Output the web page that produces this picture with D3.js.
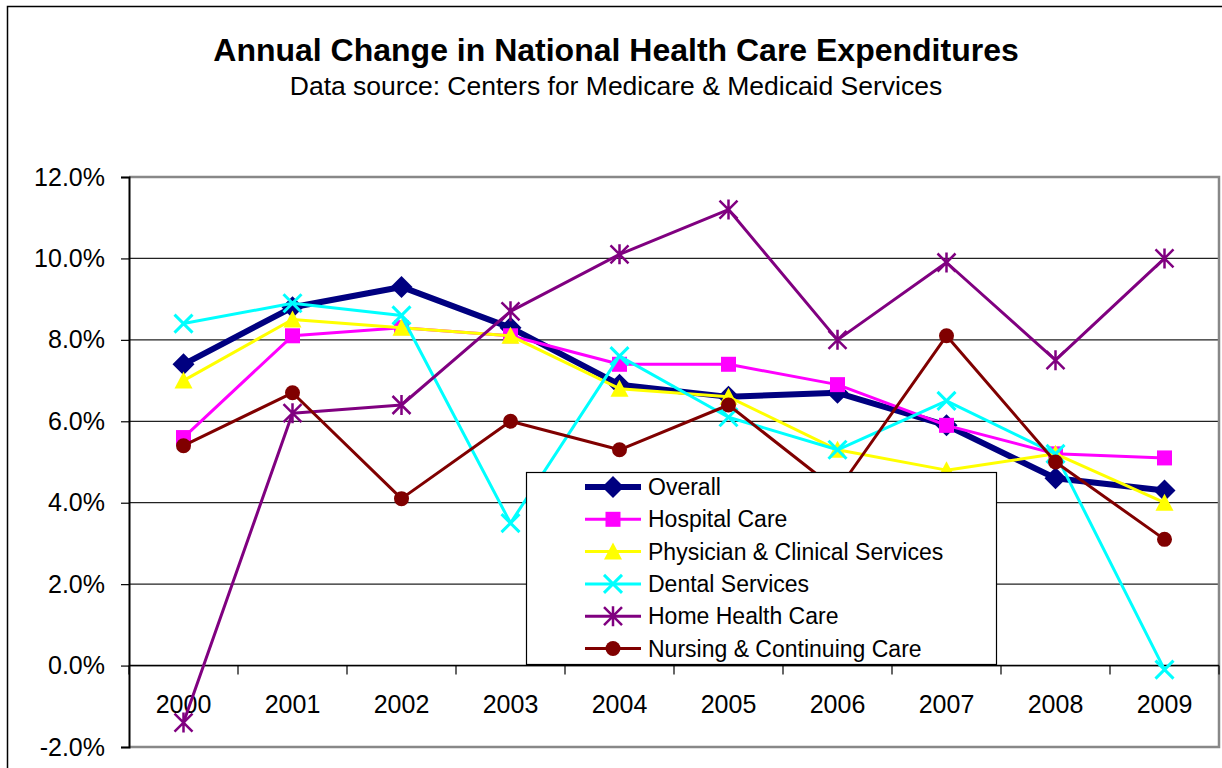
<!DOCTYPE html>
<html lang="en">
<head>
  <meta charset="utf-8">
  <title>Annual Change in National Health Care Expenditures</title>
  <script src="https://d3js.org/d3.v7.min.js"></script>
  <style>
    body { margin: 0; background: #fff; }
    text { font-family: "Liberation Sans", Arial, sans-serif; fill: #000; }
  </style>
</head>
<body>
<script>
  // data (annual % change)
  var years = ["2000","2001","2002","2003","2004","2005","2006","2007","2008","2009"];
  var seriesNames = ["Overall","Hospital Care","Physician & Clinical Services","Dental Services","Home Health Care","Nursing & Continuing Care"];
  var overall   = [7.4, 8.8, 9.3, 8.3, 6.9, 6.6, 6.7, 5.9, 4.6, 4.3];
  var hospital  = [5.6, 8.1, 8.3, 8.1, 7.4, 7.4, 6.9, 5.9, 5.2, 5.1];
  var physician = [7.0, 8.5, 8.3, 8.1, 6.8, 6.6, 5.3, 4.8, 5.2, 4.0];
  var dental    = [8.4, 8.9, 8.6, 3.5, 7.6, 6.1, 5.3, 6.5, 5.2, -0.1];
  var homeHealth= [-1.4, 6.2, 6.4, 8.7, 10.1, 11.2, 8.0, 9.9, 7.5, 10.0];
  var nursing   = [5.4, 6.7, 4.1, 6.0, 5.3, 6.4, 4.3, 8.1, 5.0, 3.1];
  var yTicks = [-2, 0, 2, 4, 6, 8, 10, 12];

  var width = 1222, height = 768;
  var plotLeft = 129, plotRight = 1219, plotTop = 177, plotBottom = 747;

  var svg = d3.select("body").append("svg")
      .attr("width", width)
      .attr("height", height);

  // chart area border
  svg.append("rect")
      .attr("x", 7.5).attr("y", 6.5)
      .attr("width", 1300).attr("height", 900)
      .attr("fill", "#fff")
      .attr("stroke", "#000").attr("stroke-width", 1.5);

  svg.append("text")
      .attr("x", 616).attr("y", 61)
      .attr("text-anchor", "middle")
      .attr("font-size", 32).attr("font-weight", "bold")
      .text("Annual Change in National Health Care Expenditures");
  svg.append("text")
      .attr("x", 616).attr("y", 95)
      .attr("text-anchor", "middle")
      .attr("font-size", 26.5)
      .text("Data source: Centers for Medicare & Medicaid Services");

  var x = d3.scaleBand().domain(years).range([plotLeft, plotRight]);
  var y = d3.scaleLinear().domain([-2, 12]).range([plotBottom, plotTop]);
  var cx = function(i) { return x(years[i]) + x.bandwidth() / 2; };

  // gridlines
  svg.append("g").selectAll("line")
      .data(yTicks.filter(function(d) { return d > -2 && d < 12; }))
      .join("line")
      .attr("x1", plotLeft).attr("x2", plotRight)
      .attr("y1", function(d) { return y(d); })
      .attr("y2", function(d) { return y(d); })
      .attr("stroke", "#222").attr("stroke-width", 1.2);

  // plot area border (gray) top/right/bottom
  svg.append("path")
      .attr("d", "M" + plotLeft + "," + plotTop + "H" + plotRight + "V" + plotBottom + "H" + plotLeft)
      .attr("fill", "none")
      .attr("stroke", "#888").attr("stroke-width", 2.5);

  // y axis
  var yAxis = svg.append("g")
      .attr("transform", "translate(" + plotLeft + ",0)")
      .call(d3.axisLeft(y)
        .tickValues(yTicks)
        .tickSize(8)
        .tickPadding(16)
        .tickFormat(function(d) { return d.toFixed(1) + "%"; }));
  yAxis.select(".domain").attr("stroke", "#000").attr("stroke-width", 2);
  yAxis.selectAll(".tick line").attr("stroke", "#000").attr("stroke-width", 1.2);
  yAxis.selectAll("text")
      .attr("font-size", 25)
      .attr("font-family", "'Liberation Sans', Arial, sans-serif")
      .attr("fill", "#000");

  // x axis at 0%
  var xg = svg.append("g");
  xg.append("line")
      .attr("x1", plotLeft).attr("x2", plotRight)
      .attr("y1", y(0)).attr("y2", y(0))
      .attr("stroke", "#000").attr("stroke-width", 1.5);
  xg.selectAll("line.tk")
      .data(years.concat(["end"]))
      .join("line")
      .attr("class", "tk")
      .attr("x1", function(d, i) { return plotLeft + i * x.bandwidth(); })
      .attr("x2", function(d, i) { return plotLeft + i * x.bandwidth(); })
      .attr("y1", y(0)).attr("y2", y(0) + 9)
      .attr("stroke", "#000").attr("stroke-width", 1.2);
  xg.selectAll("text")
      .data(years)
      .join("text")
      .attr("x", function(d) { return x(d) + x.bandwidth() / 2; })
      .attr("y", 713)
      .attr("text-anchor", "middle")
      .attr("font-size", 25)
      .text(function(d) { return d; });

  // markers
  function drawMarker(g, type, color, px, py) {
    if (type === "diamond") {
      g.append("path")
        .attr("d", "M" + px + "," + (py - 11) + "L" + (px + 11) + "," + py + "L" + px + "," + (py + 11) + "L" + (px - 11) + "," + py + "Z")
        .attr("fill", color);
    } else if (type === "square") {
      g.append("rect").attr("x", px - 7.5).attr("y", py - 7.5)
        .attr("width", 15).attr("height", 15).attr("fill", color);
    } else if (type === "triangle") {
      g.append("path")
        .attr("d", "M" + px + "," + (py - 9) + "L" + (px + 9) + "," + (py + 8) + "L" + (px - 9) + "," + (py + 8) + "Z")
        .attr("fill", color);
    } else if (type === "x") {
      g.append("path")
        .attr("d", "M" + (px - 9) + "," + (py - 9) + "L" + (px + 9) + "," + (py + 9) + "M" + (px + 9) + "," + (py - 9) + "L" + (px - 9) + "," + (py + 9))
        .attr("stroke", color).attr("stroke-width", 3).attr("fill", "none");
    } else if (type === "star") {
      g.append("path")
        .attr("d", "M" + (px - 9) + "," + (py - 9) + "L" + (px + 9) + "," + (py + 9) + "M" + (px + 9) + "," + (py - 9) + "L" + (px - 9) + "," + (py + 9) + "M" + px + "," + (py - 10) + "L" + px + "," + (py + 10))
        .attr("stroke", color).attr("stroke-width", 2.5).attr("fill", "none");
    } else if (type === "circle") {
      g.append("circle").attr("cx", px).attr("cy", py).attr("r", 7.5).attr("fill", color);
    }
  }

  var series = [
    { name: seriesNames[0], values: overall,    color: "#000080", width: 6, marker: "diamond" },
    { name: seriesNames[1], values: hospital,   color: "#FF00FF", width: 3, marker: "square" },
    { name: seriesNames[2], values: physician,  color: "#FFFF00", width: 3, marker: "triangle" },
    { name: seriesNames[3], values: dental,     color: "#00FFFF", width: 3, marker: "x" },
    { name: seriesNames[4], values: homeHealth, color: "#800080", width: 3, marker: "star" },
    { name: seriesNames[5], values: nursing,    color: "#800000", width: 3, marker: "circle" }
  ];

  var line = d3.line()
      .x(function(d, i) { return cx(i); })
      .y(function(d) { return y(d); });

  series.forEach(function(s) {
    var g = svg.append("g");
    g.append("path")
      .attr("d", line(s.values))
      .attr("fill", "none")
      .attr("stroke", s.color)
      .attr("stroke-width", s.width)
      .attr("stroke-linejoin", "round");
    s.values.forEach(function(v, i) { drawMarker(g, s.marker, s.color, cx(i), y(v)); });
  });

  // legend
  var lg = svg.append("g");
  lg.append("rect")
      .attr("x", 526.5).attr("y", 472.5)
      .attr("width", 470).attr("height", 192)
      .attr("fill", "#fff")
      .attr("stroke", "#000").attr("stroke-width", 1.2);
  series.forEach(function(s, i) {
    var ly = 487 + i * 32.3;
    lg.append("line")
      .attr("x1", 585).attr("x2", 641)
      .attr("y1", ly).attr("y2", ly)
      .attr("stroke", s.color).attr("stroke-width", s.width);
    drawMarker(lg, s.marker, s.color, 613, ly);
    lg.append("text")
      .attr("x", 648).attr("y", ly + 8)
      .attr("font-size", 23)
      .text(s.name);
  });
</script>
</body>
</html>
